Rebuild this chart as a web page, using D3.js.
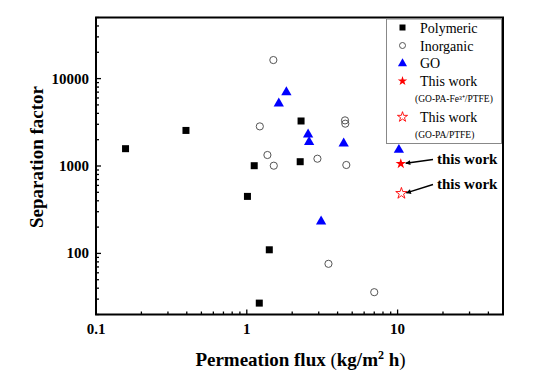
<!DOCTYPE html>
<html><head><meta charset="utf-8">
<script src="https://cdn.jsdelivr.net/npm/d3@7"></script>
</head><body style="margin:0;background:#fff">
<svg id="c" width="541" height="381" style="display:block"></svg>
<script>
const polymericFlux = [0.157, 0.395, 2.29, 1.12, 1.01, 1.41, 1.21, 2.26];
const polymericSep  = [1578, 2552, 3273, 1008, 449, 110, 27, 1120];
const inorganicFlux = [1.50, 1.22, 4.48, 4.50, 1.37, 1.51, 2.94, 4.57, 3.48, 7.0];
const inorganicSep  = [16300, 2839, 3326, 3050, 1336, 1008, 1212, 1027, 76, 36];
const goFlux = [1.83, 1.63, 2.55, 2.59, 4.39, 10.2, 3.11];
const goSep  = [7080, 5260, 2324, 1911, 1832, 1550, 235];
const workFeFlux = [10.5], workFeSep = [1062];
const workPaFlux = [10.6], workPaSep = [486];
const xTicks = [0.1, 1, 10];
const yTicks = [100, 1000, 10000];
const legendLabels = ["Polymeric","Inorganic","GO","This work","This work"];
const legendSubs = ["","","","(GO-PA-Fe\u00b3\u207a/PTFE)","(GO-PA/PTFE)"];

const FONT = '"Liberation Serif"';
const svg = d3.select("#c");
const L=96,R=503,T=17.5,B=314.5;
const x = d3.scaleLog().domain([0.1,50]).range([L,R]);
const y = d3.scaleLog().domain([20,50000]).range([B,T]);
function txt(g){ return g.append("text").style("font-family", FONT); }

const xAll = [];
for (let d=0.1; d<50; d*=10) for (let k=1;k<10;k++){const v=d*k; if(v>0.1-1e-9 && v<=50) xAll.push(+v.toPrecision(3));}
const yAll = [];
for (let d=10; d<50000; d*=10) for (let k=1;k<10;k++){const v=d*k; if(v>=20 && v<=50000) yAll.push(+v.toPrecision(3));}

const gx = svg.append("g");
xAll.forEach(v=>{
  const major = xTicks.includes(v);
  gx.append("line").attr("x1",x(v)).attr("x2",x(v)).attr("y1",B).attr("y2",B-(major?5:3)).attr("stroke","#000").attr("stroke-width",1.3);
});
xTicks.forEach(v=>{
  txt(gx).attr("x",x(v)).attr("y",334).attr("text-anchor","middle").attr("font-size",15).attr("font-weight","bold").text(v);
});
const gy = svg.append("g");
yAll.forEach(v=>{
  const major = yTicks.includes(v);
  gy.append("line").attr("x1",L).attr("x2",L+(major?5:3)).attr("y1",y(v)).attr("y2",y(v)).attr("stroke","#000").attr("stroke-width",1.3);
});
yTicks.forEach(v=>{
  txt(gy).attr("x",89).attr("y",y(v)+5).attr("text-anchor","end").attr("font-size",15).attr("font-weight","bold").text(v);
});

svg.append("rect").attr("x",L).attr("y",T).attr("width",R-L).attr("height",B-T).attr("fill","none").attr("stroke","#000").attr("stroke-width",2);

const xt = txt(svg).attr("x",(L+R)/2+1).attr("y",366).attr("text-anchor","middle").attr("font-size",19).attr("font-weight","bold");
xt.append("tspan").text("Permeation flux ");
xt.append("tspan").attr("font-weight","normal").text("(");
xt.append("tspan").text("kg/m");
xt.append("tspan").attr("font-size",12).attr("dy",-7).text("2");
xt.append("tspan").attr("dy",7).text(" h");
xt.append("tspan").attr("font-weight","normal").text(")");
txt(svg).attr("transform","translate(43,157) rotate(-90)").attr("text-anchor","middle").attr("font-size",19).attr("font-weight","bold").text("Separation factor");

const star = d3.symbol().type(d3.symbolStar);
function pts(fx, fy){ return fx.map((v,i)=>[v,fy[i]]); }
const gp = svg.append("g");
gp.selectAll("rect.p").data(pts(polymericFlux,polymericSep)).join("rect")
  .attr("x",d=>x(d[0])-3.5).attr("y",d=>y(d[1])-3.5).attr("width",7).attr("height",7).attr("fill","#000");
gp.selectAll("circle.i").data(pts(inorganicFlux,inorganicSep)).join("circle")
  .attr("cx",d=>x(d[0])).attr("cy",d=>y(d[1])).attr("r",3.6).attr("fill","none").attr("stroke","#555").attr("stroke-width",1);
gp.selectAll("path.g").data(pts(goFlux,goSep)).join("path")
  .attr("transform",d=>`translate(${x(d[0])},${y(d[1])+0.5})`).attr("d",d3.symbol().type(d3.symbolTriangle).size(46)).attr("fill","#0000ff");
gp.selectAll("path.s1").data(pts(workFeFlux,workFeSep)).join("path")
  .attr("transform",d=>`translate(${x(d[0])},${y(d[1])})`).attr("d",star.size(34)).attr("fill","#ff0000");
gp.selectAll("path.s2").data(pts(workPaFlux,workPaSep)).join("path")
  .attr("transform",d=>`translate(${x(d[0])},${y(d[1])})`).attr("d",star.size(40)).attr("fill","none").attr("stroke","#ff0000").attr("stroke-width",0.9);

svg.append("defs").append("marker").attr("id","ah").attr("viewBox","0 0 10 10").attr("refX",9).attr("refY",5)
  .attr("markerWidth",7).attr("markerHeight",5).attr("orient","auto").attr("markerUnits","userSpaceOnUse")
  .append("path").attr("d","M0,0L10,5L0,10Z").attr("fill","#000");
[[workFeFlux[0],workFeSep[0],164],[workPaFlux[0],workPaSep[0],189]].forEach(([fx,fs,ty])=>{
  svg.append("line").attr("x1",433).attr("y1",ty-4.5).attr("x2",x(fx)+5).attr("y2",y(fs)-0.5)
    .attr("stroke","#000").attr("stroke-width",1.5).attr("marker-end","url(#ah)");
  txt(svg).attr("x",437).attr("y",ty).attr("font-size",15).attr("font-weight","bold").text("this work");
});

const lg = svg.append("g");
lg.append("rect").attr("x",386.5).attr("y",19).attr("width",115).attr("height",124.5).attr("fill","#fff").attr("stroke","#888").attr("stroke-width",1);
const rowY = [27.5,45.5,63,81,117];
const subY = [0,0,0,102,138];
const sx = 402.5;
lg.append("rect").attr("x",sx-3).attr("y",rowY[0]-3).attr("width",6).attr("height",6).attr("fill","#000");
lg.append("circle").attr("cx",sx).attr("cy",rowY[1]).attr("r",3).attr("fill","none").attr("stroke","#555");
lg.append("path").attr("transform",`translate(${sx},${rowY[2]+0.5})`).attr("d",d3.symbol().type(d3.symbolTriangle).size(36)).attr("fill","#0000ff");
lg.append("path").attr("transform",`translate(${sx},${rowY[3]})`).attr("d",d3.symbol().type(d3.symbolStar).size(28)).attr("fill","#ff0000");
lg.append("path").attr("transform",`translate(${sx},${rowY[4]})`).attr("d",d3.symbol().type(d3.symbolStar).size(32)).attr("fill","none").attr("stroke","#ff0000").attr("stroke-width",0.9);
legendLabels.forEach((t,i)=>{
  txt(lg).attr("x",420).attr("y",rowY[i]+5).attr("font-size",14).text(t);
  if(legendSubs[i]) txt(lg).attr("x",415).attr("y",subY[i]).attr("font-size",9.5).text(legendSubs[i]);
});
</script>
</body></html>
